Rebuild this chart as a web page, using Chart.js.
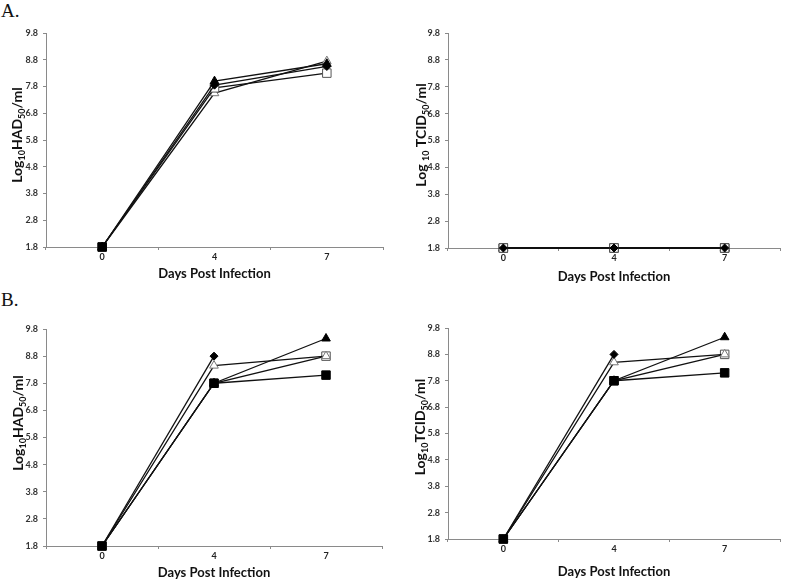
<!DOCTYPE html>
<html>
<head>
<meta charset="utf-8">
<script src="https://cdn.jsdelivr.net/npm/chart.js@4"></script>
<style>
  body { margin: 0; background: #fff; width: 787px; height: 582px; position: relative; overflow: hidden; }
  canvas { position: absolute; }
  .tag { position: absolute; font-family: "Liberation Serif", "DejaVu Serif", serif; font-size: 19px; color: #111; }
</style>
</head>
<body>
<div class="tag" style="left:1px; top:0px;">A.</div>
<div class="tag" style="left:1px; top:289px;">B.</div>
<canvas id="aHad" width="390" height="290" style="left:0; top:0;"></canvas>
<canvas id="aTcid" width="397" height="290" style="left:390px; top:0;"></canvas>
<canvas id="bHad" width="390" height="292" style="left:0; top:290px;"></canvas>
<canvas id="bTcid" width="397" height="292" style="left:390px; top:290px;"></canvas>
<script>
// dias post infeccion
var days = ["0", "4", "7"];
var yTicks = [1.8, 2.8, 3.8, 4.8, 5.8, 6.8, 7.8, 8.8, 9.8];

// A - HAD50
var aHadFilledSquare = [1.8, null, null];
var aHadDiamond = [1.8, 7.85, 8.55];
var aHadFilledTri = [1.8, 8.0, 8.65];
var aHadOpenSquare = [1.8, 7.75, 8.3];
var aHadOpenTri = [1.8, 7.55, 8.75];

// A - TCID50
var aTcidFilledSquare = [1.8, 1.8, 1.8];
var aTcidDiamond = [1.8, 1.8, 1.8];
var aTcidFilledTri = [1.8, 1.8, 1.8];
var aTcidOpenSquare = [1.8, 1.8, 1.8];
var aTcidOpenTri = [1.8, 1.8, 1.8];

// B - HAD50
var bHadFilledSquare = [1.8, 7.8, 8.1];
var bHadDiamond = [1.8, 8.8, null];
var bHadOpenTri = [1.8, 8.45, 8.8];
var bHadFilledTri = [1.8, 7.8, 9.45];
var bHadOpenSquare = [1.8, 7.8, 8.8];

// B - TCID50
var bTcidFilledSquare = [1.8, 7.8, 8.1];
var bTcidDiamond = [1.8, 8.8, null];
var bTcidOpenTri = [1.8, 8.5, 8.8];
var bTcidFilledTri = [1.8, 7.8, 9.45];
var bTcidOpenSquare = [1.8, 7.8, 8.8];

// estilos de marcador
function filledSquare(d) { return { data: d, pointStyle: "rect", pointRadius: 6, pointBackgroundColor: "#000", pointBorderColor: "#000" }; }
function diamond(d) { return { data: d, pointStyle: "rectRot", pointRadius: 4, pointBackgroundColor: "#000", pointBorderColor: "#000" }; }
function filledTri(d) { return { data: d, pointStyle: "triangle", pointRadius: 5, pointBackgroundColor: "#000", pointBorderColor: "#000" }; }
function openSquare(d) { return { data: d, pointStyle: "rect", pointRadius: 6, pointBackgroundColor: "#fff", pointBorderColor: "#555" }; }
function openTri(d) { return { data: d, pointStyle: "triangle", pointRadius: 5, pointBackgroundColor: "#fff", pointBorderColor: "#777" }; }

// titulo del eje y con subindices
var yTitlePlugin = {
  id: "yTitle",
  afterDraw: function (chart, args, opts) {
    var ctx = chart.ctx;
    var big = "bold 14px Lato, sans-serif";
    var small = "bold 9px Lato, sans-serif";
    var total = 0;
    opts.parts.forEach(function (p) {
      ctx.font = p[1] ? small : big;
      total += ctx.measureText(p[0]).width;
    });
    ctx.save();
    ctx.translate(opts.cx, opts.cy);
    ctx.rotate(-Math.PI / 2);
    ctx.fillStyle = "#111";
    ctx.textBaseline = "alphabetic";
    var x = -total / 2;
    opts.parts.forEach(function (p) {
      ctx.font = p[1] ? small : big;
      ctx.fillText(p[0], x, p[1] ? 8 : 5);
      x += ctx.measureText(p[0]).width;
    });
    ctx.restore();
  }
};

function makeChart(id, sets, box) {
  var datasets = sets.map(function (s) {
    s.borderColor = "#111";
    s.borderWidth = 1.3;
    s.pointBorderWidth = 1;
    s.fill = false;
    s.clip = false;
    s.spanGaps = false;
    return s;
  });
  return new Chart(document.getElementById(id).getContext("2d"), {
    type: "line",
    data: { labels: days, datasets: datasets },
    options: {
      responsive: false,
      animation: false,
      layout: { padding: { top: box.padTop, right: box.padRight, left: 0, bottom: 0 } },
      plugins: {
        legend: { display: false },
        tooltip: { enabled: false },
        yTitle: box.yTitle
      },
      scales: {
        x: {
          offset: true,
          afterFit: function (s) { s.height = box.xH; },
          grid: { offset: true, drawOnChartArea: false, tickLength: 3, color: "#8a8a8a" },
          border: { color: "#8a8a8a", width: 1 },
          ticks: { color: "#222", padding: 2, font: { family: "Lato", size: 9, weight: "bold" } },
          title: {
            display: true,
            text: "Days Post Infection",
            color: "#111",
            padding: { top: 0, bottom: box.titlePad },
            font: { family: "Lato", size: 13, weight: "bold" }
          }
        },
        y: {
          min: 1.8,
          max: 9.8,
          afterFit: function (s) { s.width = box.yW; },
          afterBuildTicks: function (s) { s.ticks = yTicks.map(function (v) { return { value: v }; }); },
          grid: { drawOnChartArea: false, tickLength: 3, color: "#8a8a8a" },
          border: { color: "#8a8a8a", width: 1 },
          ticks: {
            color: "#333",
            padding: 5,
            font: { family: "Lato", size: 9, weight: "bold" },
            callback: function (v) { return Number(v).toFixed(1); }
          }
        }
      }
    },
    plugins: [yTitlePlugin]
  });
}

var hadParts = [["Log", 0], ["10", 1], ["HAD", 0], ["50", 1], ["/ml", 0]];

makeChart("aHad",
  [filledSquare(aHadFilledSquare), diamond(aHadDiamond), filledTri(aHadFilledTri), openSquare(aHadOpenSquare), openTri(aHadOpenTri)],
  { padTop: 33, padRight: 5, yW: 46, xH: 43, titlePad: 8, yTitle: { cx: 17, cy: 135, parts: hadParts } });

makeChart("aTcid",
  [diamond(aTcidDiamond), openSquare(aTcidOpenSquare), filledSquare(aTcidFilledSquare), filledTri(aTcidFilledTri), openTri(aTcidOpenTri)],
  { padTop: 33, padRight: 2, yW: 58, xH: 42, titlePad: 5,
    yTitle: { cx: 31, cy: 135, parts: [["Log ", 0], ["10", 1], [" TCID", 0], ["50", 1], ["/ml", 0]] } });

makeChart("bHad",
  [filledSquare(bHadFilledSquare), diamond(bHadDiamond), openTri(bHadOpenTri), filledTri(bHadFilledTri), openSquare(bHadOpenSquare)],
  { padTop: 39, padRight: 8, yW: 46, xH: 36, titlePad: 1, yTitle: { cx: 18, cy: 133, parts: hadParts } });

makeChart("bTcid",
  [filledSquare(bTcidFilledSquare), diamond(bTcidDiamond), openTri(bTcidOpenTri), filledTri(bTcidFilledTri), openSquare(bTcidOpenSquare)],
  { padTop: 38, padRight: 2, yW: 58, xH: 43, titlePad: 2,
    yTitle: { cx: 30, cy: 137, parts: [["Log", 0], ["10", 1], ["TCID", 0], ["50", 1], ["/ml", 0]] } });
</script>
</body>
</html>
